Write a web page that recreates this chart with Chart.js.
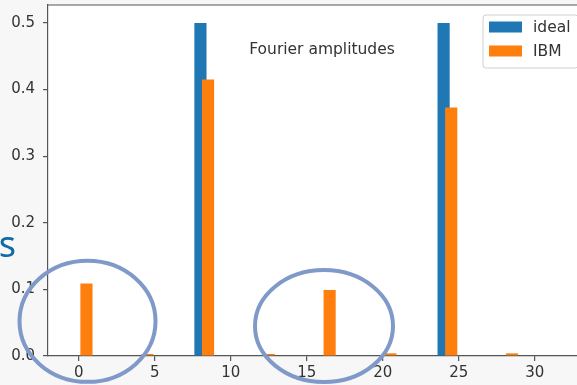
<!DOCTYPE html>
<html><head><meta charset="utf-8">
<script src="https://cdn.jsdelivr.net/npm/chart.js@4.4.1/dist/chart.umd.min.js"></script>
<style>
html,body{margin:0;padding:0;overflow:hidden;background:#f7f7f7}
#wrap{width:588px;height:385px;position:relative}
</style></head>
<body><div id="wrap"><canvas id="c"></canvas></div>
<script>
// ---- data ----
const bins = [0,1,2,3,4,5,6,7,8,9,10,11,12,13,14,15,16,17,18,19,20,21,22,23,24,25,26,27,28,29,30,31];
const idealValues = [0,0,0,0,0,0,0,0,0.5,0,0,0,0,0,0,0,0,0,0,0,0,0,0,0,0.5,0,0,0,0,0,0,0];
const ibmValues   = [0.109,0,0,0,0.003,0,0,0,0.415,0,0,0,0.003,0,0,0,0.099,0,0,0,0.004,0,0,0,0.373,0,0,0,0.004,0,0,0];
const ibmShift = 0.5;
const seriesNames = ['ideal', 'IBM'];
const xTicks = [0,5,10,15,20,25,30];
const yTicks = [0,0.1,0.2,0.3,0.4,0.5];
const chartTitle = 'Fourier amplitudes';
const sideText = 's';
// highlight ellipses (centre in data units)
const ringCentersX = [0.57, 16.13];
const ringCentersY = [0.052, 0.045];

const ringStyle = [{rx:68, ry:60.5}, {rx:69, ry:56}];
const colors = ['#1f77b4', '#ff7f0e'];

const bgPlugin = {
  id:'bg',
  beforeDraw(chart){
    const {ctx, chartArea:a} = chart;
    ctx.save();
    ctx.fillStyle = '#f7f7f7';
    ctx.fillRect(0,0,chart.width,chart.height);
    ctx.fillStyle = '#ffffff';
    ctx.fillRect(a.left, a.top, a.right-a.left, a.bottom-a.top);
    ctx.restore();
  }
};

const overlayPlugin = {
  id:'overlay',
  afterDraw(chart){
    const {ctx, chartArea:a} = chart;
    const xs = chart.scales.x, ys = chart.scales.y;
    ctx.save();
    // top spine
    ctx.strokeStyle = '#555';
    ctx.lineWidth = 1.2;
    ctx.beginPath();
    ctx.moveTo(a.left, a.top); ctx.lineTo(a.right, a.top);
    ctx.moveTo(a.right, a.top); ctx.lineTo(a.right, a.bottom);
    ctx.stroke();
    // title inside axes
    ctx.fillStyle = '#333';
    ctx.font = '15.5px "DejaVu Sans"';
    ctx.textAlign = 'center';
    ctx.textBaseline = 'middle';
    ctx.fillText(chartTitle, (a.left + a.right)/2 + 4, a.top + 45);
    // legend
    const bx = a.right - 105, by = a.top + 10, bw = 95, bh = 53;
    ctx.fillStyle = 'rgba(255,255,255,0.85)';
    ctx.strokeStyle = '#d0d0d0';
    ctx.lineWidth = 1;
    ctx.beginPath();
    if (ctx.roundRect) ctx.roundRect(bx, by, bw, bh, 3); else ctx.rect(bx, by, bw, bh);
    ctx.fill(); ctx.stroke();
    chart.data.datasets.forEach((ds, i) => {
      const cy = by + 12 + i*24;
      ctx.fillStyle = ds.backgroundColor;
      ctx.fillRect(bx + 6, cy - 5.5, 33, 11);
      ctx.fillStyle = '#333';
      ctx.font = '15.5px "DejaVu Sans"';
      ctx.textAlign = 'left';
      ctx.textBaseline = 'middle';
      ctx.fillText(ds.label, bx + 50, cy + 1);
    });
    // slide annotations
    ctx.strokeStyle = '#7f99c9';
    ctx.lineWidth = 4;
    ringCentersX.forEach((cx, i) => {
      const px = xs.getPixelForValue(cx), py = ys.getPixelForValue(ringCentersY[i]);
      ctx.beginPath();
      ctx.ellipse(px, py, ringStyle[i].rx, ringStyle[i].ry, 0, 0, Math.PI*2);
      ctx.stroke();
    });
    ctx.fillStyle = '#0f6aa6';
    ctx.font = '36px "Noto Sans"';
    ctx.textAlign = 'right';
    ctx.textBaseline = 'alphabetic';
    ctx.fillText(sideText, 16, 257);
    ctx.restore();
  }
};

new Chart(document.getElementById('c'), {
  type:'bar',
  data:{
    datasets:[
      {label:seriesNames[0], data:bins.map((b,i)=>({x:b, y:idealValues[i]})), backgroundColor:colors[0], order:1},
      {label:seriesNames[1], data:bins.map((b,i)=>({x:b+ibmShift, y:ibmValues[i]})), backgroundColor:colors[1], order:0}
    ]
  },
  options:{
    responsive:true,
    maintainAspectRatio:false,
    animation:false,
    devicePixelRatio:1,
    layout:{padding:{top:5,left:0,right:0,bottom:0}},
    datasets:{bar:{grouped:false, categoryPercentage:1, barPercentage:1.6, borderWidth:0}},
    plugins:{legend:{display:false}, tooltip:{enabled:false}, title:{display:false}},
    scales:{
      x:{
        type:'linear', min:-2.03, max:33.5, offset:false,
        grid:{display:true, offset:false, drawOnChartArea:false, drawTicks:true, tickLength:5, color:'#555', lineWidth:1.2},
        border:{display:true, color:'#555', width:1.2},
        ticks:{color:'#333', font:{family:'DejaVu Sans', size:15}, padding:3, maxRotation:0, autoSkip:false},
        afterBuildTicks(s){ s.ticks = xTicks.map(v=>({value:v})); },
        afterFit(s){ s.height = 29; s.paddingLeft = 0; s.paddingRight = 0; }
      },
      y:{
        type:'linear', min:0, max:0.527,
        grid:{display:true, drawOnChartArea:false, drawTicks:true, tickLength:5, color:'#555', lineWidth:1.2},
        border:{display:true, color:'#555', width:1.2},
        ticks:{color:'#333', font:{family:'DejaVu Sans', size:15}, padding:8, callback:v=>v.toFixed(1)},
        afterBuildTicks(s){ s.ticks = yTicks.map(v=>({value:v})); },
        afterFit(s){ s.width = 48; s.paddingTop = 0; s.paddingBottom = 0; }
      }
    }
  },
  plugins:[bgPlugin, overlayPlugin]
});
</script>
</body></html>
